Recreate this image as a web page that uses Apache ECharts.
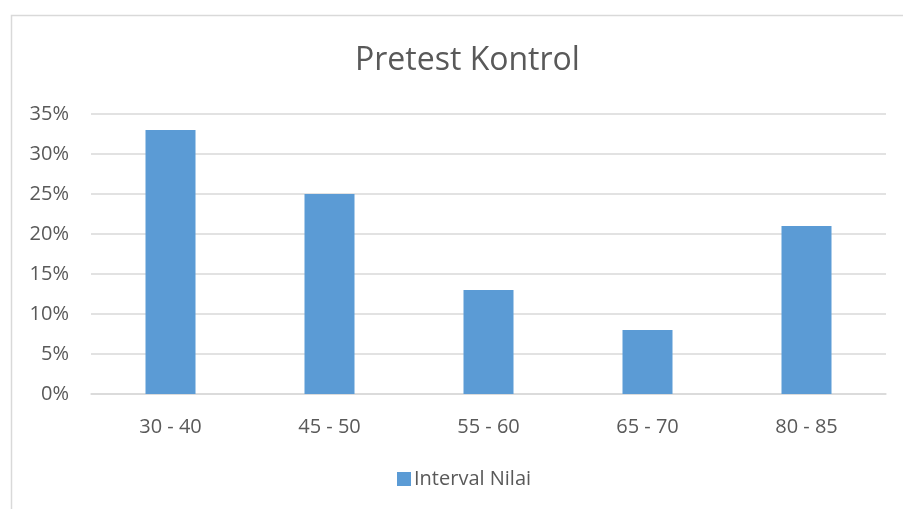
<!DOCTYPE html>
<html>
<head>
<meta charset="utf-8">
<script src="https://cdn.jsdelivr.net/npm/echarts@6/dist/echarts.min.js"></script>
<style>
  html, body { margin: 0; padding: 0; background: #fff; }
  #chart { width: 903px; height: 509px; }
</style>
</head>
<body>
<div id="chart"></div>
<script>
// data
const categories = ['30 - 40', '45 - 50', '55 - 60', '65 - 70', '80 - 85'];
const values = [33, 25, 13, 8, 21];
const seriesName = 'Interval Nilai';

const textColor = '#595959';
const fontFam = '"Open Sans", "Noto Sans", sans-serif';

const chart = echarts.init(document.getElementById('chart'));
chart.setOption({
  backgroundColor: '#fff',
  animation: false,
  // outer chart frame, only left and top edges are visible
  graphic: [{
    type: 'rect',
    shape: { x: 11.5, y: 15.5, width: 1000, height: 600 },
    style: { fill: 'none', stroke: '#d9d9d9', lineWidth: 1.5 },
    silent: true
  }],
  title: {
    text: 'Pretest Kontrol',
    left: 350,
    top: 40,
    textStyle: { color: textColor, fontSize: 32, fontWeight: 'normal', fontFamily: fontFam }
  },
  legend: {
    bottom: 15,
    left: 392,
    itemWidth: 14,
    itemHeight: 14,
    itemGap: 6,
    icon: 'rect',
    textStyle: { color: textColor, fontSize: 20, fontFamily: fontFam, padding: [0, 0, 0, -2] }
  },
  grid: { left: 91, right: 17, top: 114, bottom: 115 },
  xAxis: {
    type: 'category',
    data: categories,
    axisTick: { show: false },
    axisLine: { lineStyle: { color: '#d9d9d9', width: 1.5 } },
    axisLabel: { color: textColor, fontSize: 20, fontFamily: fontFam, margin: 23 }
  },
  yAxis: {
    type: 'value',
    min: 0,
    max: 35,
    interval: 5,
    axisLine: { show: false },
    axisTick: { show: false },
    splitLine: { lineStyle: { color: '#d9d9d9', width: 1.5 } },
    axisLabel: {
      color: textColor, fontSize: 20, fontFamily: fontFam, margin: 22,
      formatter: v => v + '%'
    }
  },
  series: [{
    name: seriesName,
    type: 'bar',
    data: values,
    barWidth: 50,
    itemStyle: { color: '#5b9bd5' }
  }]
});
</script>
</body>
</html>
